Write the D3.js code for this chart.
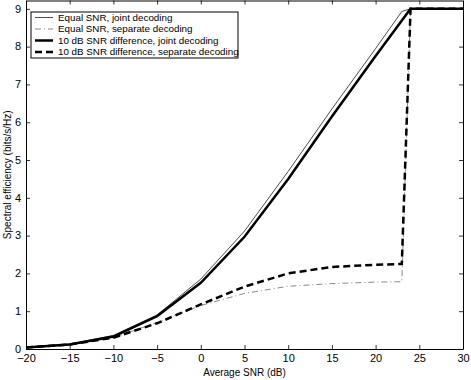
<!DOCTYPE html>
<html>
<head>
<meta charset="utf-8">
<script src="https://cdn.jsdelivr.net/npm/d3@7"></script>
<style>
body { margin: 0; background: #fff; }
svg { display: block; font-family: "Liberation Sans", Arial, sans-serif; }
</style>
</head>
<body>
<script>
// values
var xTicks = [-20, -15, -10, -5, 0, 5, 10, 15, 20, 25, 30];
var yTicks = [0, 1, 2, 3, 4, 5, 6, 7, 8, 9];

var equalJointSnr = [-20, -15, -10, -5, 0, 5, 10, 15, 20, 23, 24, 30];
var equalJoint    = [0.05, 0.13, 0.36, 0.9, 1.85, 3.12, 4.7, 6.35, 7.95, 8.93, 9, 9];

var equalSepSnr = [-20, -15, -10, -5, 0, 5, 10, 15, 20, 23, 24, 30];
var equalSep    = [0.05, 0.13, 0.3, 0.7, 1.15, 1.47, 1.66, 1.73, 1.77, 1.78, 9, 9];

var diffJointSnr = [-20, -15, -10, -5, 0, 5, 10, 15, 20, 24, 30];
var diffJoint    = [0.04, 0.12, 0.33, 0.87, 1.75, 2.97, 4.5, 6.15, 7.75, 9, 9];

var diffSepSnr = [-20, -15, -10, -5, 0, 5, 10, 15, 20, 23, 24, 30];
var diffSep    = [0.04, 0.12, 0.3, 0.68, 1.18, 1.65, 2.0, 2.17, 2.23, 2.25, 9, 9];

var legendLabels = [
  "Equal SNR, joint decoding",
  "Equal SNR, separate decoding",
  "10 dB SNR difference, joint decoding",
  "10 dB SNR difference, separate decoding"
];

var width = 471, height = 380;
var plotLeft = 26, plotRight = 463, plotTop = 0.5, plotBottom = 349;

var svg = d3.select('body').append('svg')
  .attr('width', width)
  .attr('height', height);

var x = d3.scaleLinear().domain([-20, 30]).range([plotLeft, plotRight]);
var y = d3.scaleLinear().domain([0, 9.22]).range([plotBottom, plotTop]);

function pairs(xs, ys) {
  return xs.map(function(v, i) { return [v, ys[i]]; });
}

var line = d3.line()
  .x(function(d) { return x(d[0]); })
  .y(function(d) { return y(d[1]); });

var series = [
  { data: pairs(equalJointSnr, equalJoint), color: '#000', w: 0.7, dash: null },
  { data: pairs(equalSepSnr, equalSep), color: '#555', w: 0.7, dash: '6,3,1,3' },
  { data: pairs(diffJointSnr, diffJoint), color: '#000', w: 2.5, dash: null },
  { data: pairs(diffSepSnr, diffSep), color: '#000', w: 2.5, dash: '7,4' }
];

var lineG = svg.append('g');

series.forEach(function(s) {
  lineG.append('path')
    .attr('d', line(s.data))
    .attr('fill', 'none')
    .attr('stroke', s.color)
    .attr('stroke-width', s.w)
    .attr('stroke-dasharray', s.dash);
});

// axes with inward ticks on all four sides
var tickLen = 4;
var xAxis = d3.axisBottom(x).tickValues(xTicks).tickSizeInner(-tickLen).tickSizeOuter(0)
  .tickFormat(function(d) { return d < 0 ? '\u2212' + Math.abs(d) : d; });
var yAxis = d3.axisLeft(y).tickValues(yTicks).tickSizeInner(-tickLen).tickSizeOuter(0);

svg.append('g')
  .attr('class', 'x axis')
  .attr('transform', 'translate(0,' + plotBottom + ')')
  .call(xAxis);

svg.append('g')
  .attr('class', 'y axis')
  .attr('transform', 'translate(' + plotLeft + ',0)')
  .call(yAxis);

svg.append('g')
  .attr('transform', 'translate(0,' + plotTop + ')')
  .call(d3.axisTop(x).tickValues(xTicks).tickSizeInner(-tickLen).tickSizeOuter(0).tickFormat(''));

svg.append('g')
  .attr('transform', 'translate(' + plotRight + ',0)')
  .call(d3.axisRight(y).tickValues(yTicks).tickSizeInner(-tickLen).tickSizeOuter(0).tickFormat(''));

svg.selectAll('.domain').attr('stroke', '#000').attr('stroke-width', 1);
svg.selectAll('.tick line').attr('stroke', '#000').attr('stroke-width', 0.8);
svg.selectAll('.tick text')
  .attr('font-family', '"Liberation Sans", Arial, sans-serif')
  .attr('font-size', 11)
  .attr('fill', '#000');
svg.select('.x.axis').selectAll('.tick text').attr('y', 13).attr('dy', 0);
svg.select('.y.axis').selectAll('.tick text').attr('x', -5).attr('dy', '0.3em');

// axis labels
svg.append('text')
  .attr('x', (plotLeft + plotRight) / 2)
  .attr('y', 376)
  .attr('text-anchor', 'middle')
  .attr('font-size', 10)
  .text('Average SNR (dB)');

svg.append('text')
  .attr('transform', 'translate(11,' + (plotBottom + plotTop) / 2 + ') rotate(-90)')
  .attr('text-anchor', 'middle')
  .attr('font-size', 10)
  .text('Spectral efficiency (bits/s/Hz)');

// legend
var legend = svg.append('g');
legend.append('rect')
  .attr('x', 31).attr('y', 12)
  .attr('width', 207).attr('height', 46)
  .attr('fill', '#fff')
  .attr('stroke', '#000')
  .attr('stroke-width', 1);

legendLabels.forEach(function(label, i) {
  var s = series[i];
  var ly = 17.5 + i * 11.5;
  legend.append('line')
    .attr('x1', 35).attr('x2', 53)
    .attr('y1', ly).attr('y2', ly)
    .attr('stroke', s.color)
    .attr('stroke-width', s.w)
    .attr('stroke-dasharray', s.dash);
  legend.append('text')
    .attr('x', 58)
    .attr('y', ly)
    .attr('dy', '0.35em')
    .attr('font-size', 9.8)
    .text(label);
});
</script>
</body>
</html>
